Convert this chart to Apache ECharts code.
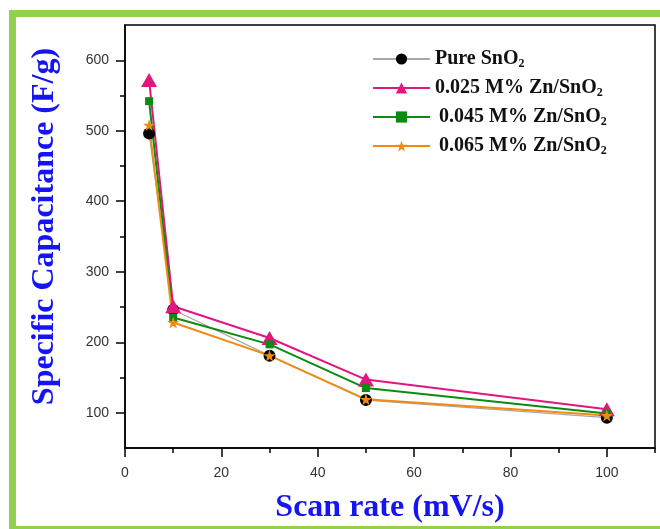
<!DOCTYPE html>
<html>
<head>
<meta charset="utf-8">
<script src="https://cdn.jsdelivr.net/npm/echarts@6/dist/echarts.min.js"></script>
<style>
  html, body { margin: 0; padding: 0; background: #fff; }
  #frame {
    position: absolute; left: 9px; top: 10px; width: 660px; height: 523px;
    border: 7px solid #92d050; box-sizing: border-box;
  }
  #chart { position: absolute; left: 0; top: 0; width: 660px; height: 529px; }
</style>
</head>
<body>
<div id="frame"></div>
<div id="chart"></div>
<script>
// Scan rates (mV/s)
const scanRates = [5, 10, 30, 50, 100];

// Specific capacitance (F/g) for each sample
const pureSnO2 = [496, 246, 181, 118, 93];
const zn025 = [572, 251, 206, 147, 105];
const zn045 = [542, 235, 197, 135, 99];
const zn065 = [508, 228, 181, 119, 96];

// Axis ticks
const xMajorTicks = [0, 20, 40, 60, 80, 100];
const xMinorTicks = [10, 30, 50, 70, 90, 110];
const yMajorTicks = [100, 200, 300, 400, 500, 600];
const yMinorTicks = [150, 250, 350, 450, 550];

const seriesNames = ['Pure SnO2', '0.025 M% Zn/SnO2', '0.045 M% Zn/SnO2', '0.065 M% Zn/SnO2'];

const pairs = vals => scanRates.map((x, i) => [x, vals[i]]);

const serif = 'Liberation Serif';
const sans = 'Liberation Sans';
const titleBlue = '#1414f5';

const chart = echarts.init(document.getElementById('chart'), null, { renderer: 'canvas' });

const baseX = {
  type: 'value', min: 0, max: 110,
  axisLine: { show: true, onZero: false, lineStyle: { color: '#000', width: 1.5 } },
  splitLine: { show: false }
};
const baseY = {
  type: 'value', min: 50, max: 650,
  axisLine: { show: true, onZero: false, lineStyle: { color: '#000', width: 1.5 } },
  splitLine: { show: false }
};

const option = {
  animation: false,
  backgroundColor: 'transparent',
  grid: { left: 125, right: 5, top: 25, bottom: 74, show: true, borderColor: '#000', borderWidth: 1.5, backgroundColor: 'transparent' },
  legend: {
    left: 367, top: 43, orient: 'vertical',
    itemWidth: 57, itemHeight: 14, itemGap: 7,
    data: seriesNames,
    // the two lower entries sit a little further right
    formatter: name => {
      const lead = seriesNames.indexOf(name) >= 2 ? '{g|}' : '';
      return lead + '{t|' + name.slice(0, -1) + '}{s|2}';
    },
    textStyle: {
      rich: {
        g: { width: 4 },
        t: { fontFamily: serif, fontWeight: 'bold', fontSize: 20, color: '#111', lineHeight: 20 },
        s: { fontFamily: serif, fontWeight: 'bold', fontSize: 12, color: '#111', padding: [10, 0, 0, 0], lineHeight: 14 }
      }
    }
  },
  xAxis: [
    Object.assign({}, baseX, {
      name: 'Scan rate (mV/s)', nameLocation: 'middle', nameGap: 44,
      nameTextStyle: { fontFamily: serif, fontWeight: 'bold', fontSize: 32, color: titleBlue },
      axisTick: { show: true, length: 9, customValues: xMajorTicks, lineStyle: { color: '#000', width: 1.5 } },
      axisLabel: { customValues: xMajorTicks, margin: 18, fontFamily: sans, fontSize: 14, color: '#333' }
    }),
    Object.assign({}, baseX, {
      axisLine: { show: false },
      axisTick: { show: true, length: 5, customValues: xMinorTicks, lineStyle: { color: '#000', width: 1.5 } },
      axisLabel: { show: false },
      position: 'bottom'
    })
  ],
  yAxis: [
    Object.assign({}, baseY, {
      name: 'Specific Capacitance (F/g)', nameLocation: 'middle', nameGap: 64,
      nameTextStyle: { fontFamily: serif, fontWeight: 'bold', fontSize: 32, color: titleBlue, padding: [0, 0, 0, 20] },
      axisTick: { show: true, length: 9, customValues: yMajorTicks, lineStyle: { color: '#000', width: 1.5 } },
      axisLabel: { customValues: yMajorTicks, margin: 16, fontFamily: sans, fontSize: 14, color: '#333' }
    }),
    Object.assign({}, baseY, {
      axisLine: { show: false },
      axisTick: { show: true, length: 5, customValues: yMinorTicks, lineStyle: { color: '#000', width: 1.5 } },
      axisLabel: { show: false },
      position: 'left'
    })
  ],
  series: [
    {
      name: seriesNames[0], type: 'line', data: pairs(pureSnO2),
      symbol: 'circle', symbolSize: 12,
      lineStyle: { color: '#a8a8a8', width: 1.2 },
      itemStyle: { color: '#000' }
    },
    {
      name: seriesNames[1], type: 'line', data: pairs(zn025),
      symbol: 'triangle', symbolSize: [16, 14],
      lineStyle: { color: '#e3157f', width: 2 },
      itemStyle: { color: '#e3157f' }
    },
    {
      name: seriesNames[2], type: 'line', data: pairs(zn045),
      symbol: 'rect', symbolSize: 8,
      lineStyle: { color: '#0c8a12', width: 2 },
      itemStyle: { color: '#0c8a12' }
    },
    {
      name: seriesNames[3], type: 'line', data: pairs(zn065),
      symbol: 'path://M50,0 L61.8,35.4 L100,35.4 L69.1,57.3 L80.9,93.5 L50,71.6 L19.1,93.5 L30.9,57.3 L0,35.4 L38.2,35.4 Z',
      symbolSize: 12,
      lineStyle: { color: '#f08a12', width: 2 },
      itemStyle: { color: '#f08a12' }
    }
  ]
};

chart.setOption(option);
</script>
</body>
</html>
